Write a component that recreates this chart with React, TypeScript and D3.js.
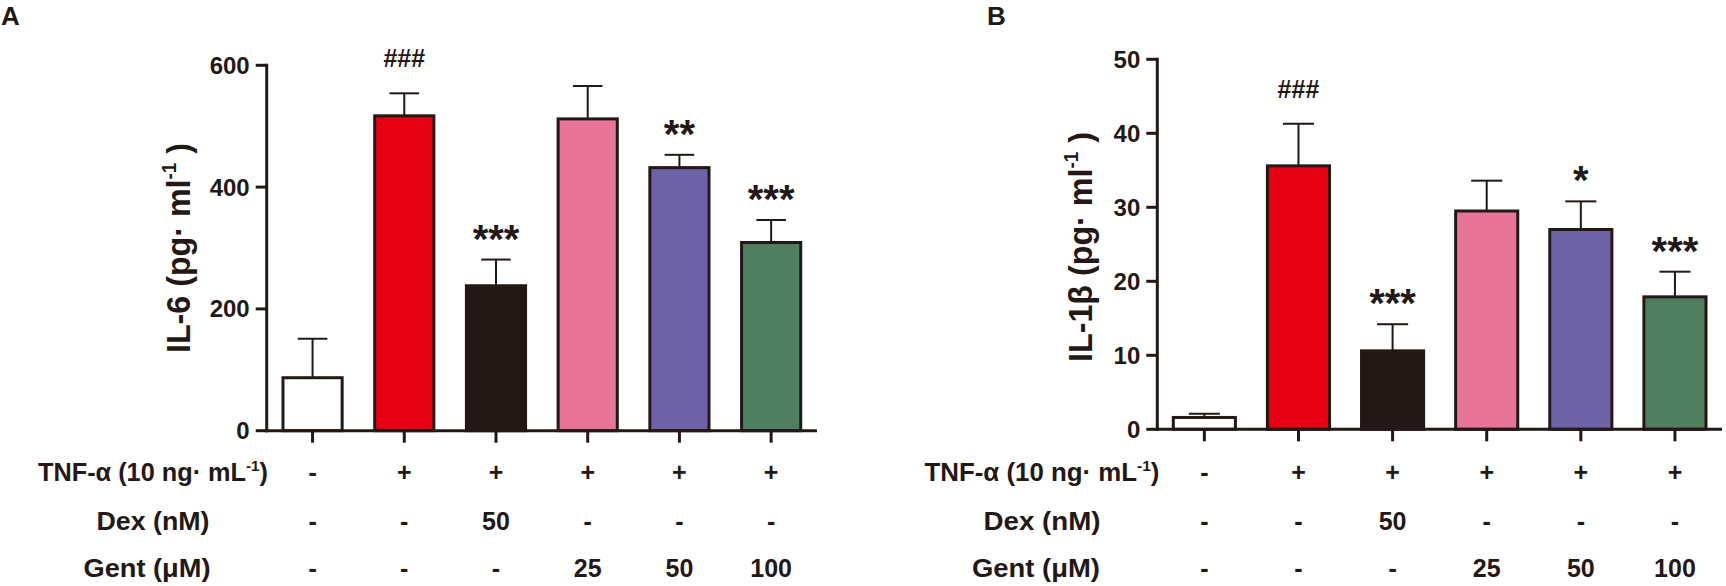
import React from 'react';
import * as d3 from 'd3';

// ---------- data ----------
const groups = ['Control', 'TNF', 'TNF+Dex', 'TNF+Gent25', 'TNF+Gent50', 'TNF+Gent100'];
const barColors = ['#ffffff', '#e60012', '#231815', '#e87597', '#6f63a8', '#4f7f5e'];

const il6Mean = [87, 517, 238, 512, 432, 309];
const il6Err = [64, 37, 43, 54, 21, 37];
const il6Sig = ['', '###', '***', '', '**', '***'];
const il6Ticks = [0, 200, 400, 600];

const il1bMean = [1.6, 35.6, 10.6, 29.5, 27.0, 17.9];
const il1bErr = [0.5, 5.7, 3.6, 4.1, 3.8, 3.4];
const il1bSig = ['', '###', '***', '', '*', '***'];
const il1bTicks = [0, 10, 20, 30, 40, 50];

const tnfRow = ['-', '+', '+', '+', '+', '+'];
const dexRow = ['-', '-', '50', '-', '-', '-'];
const gentRow = ['-', '-', '-', '25', '50', '100'];

const INK = '#231815';
const FONT = '"Liberation Sans", Arial, Helvetica, sans-serif';

type PanelProps = {
  letter: string;
  letterX: number;
  means: number[];
  errs: number[];
  sig: string[];
  ticks: number[];
  yMax: number;
  axisX: number;
  rightX: number;
  yTop: number;
  yBase: number;
  barFrac: number;
  rowLabelX: number;
  rowLabelLens: number[];
  yLabel: string;
  yLabelX: number;
  yLabelY: number;
  yLabelLen: number;
};

function Panel(p: PanelProps) {
  const x = d3.scalePoint<string>().domain(groups).range([p.axisX, p.rightX]).padding(0.5);
  const y = d3.scaleLinear().domain([0, p.yMax]).range([p.yBase, p.yTop]);
  const bw = x.step() * p.barFrac;
  const cap = bw / 2;
  const rowsY = [481, 530, 577];
  const rows = [tnfRow, dexRow, gentRow];

  return (
    <g>
      <text x={p.letterX} y={25} fontSize={26} fontWeight="bold" fill={INK} fontFamily={FONT}>
        {p.letter}
      </text>

      {/* bars */}
      {groups.map((g, i) => {
        const cx = x(g) as number;
        const top = y(p.means[i]);
        const et = y(p.means[i] + p.errs[i]);
        return (
          <g key={g}>
            <line x1={cx} x2={cx} y1={top} y2={et} stroke={INK} strokeWidth={2} />
            <line x1={cx - cap / 2} x2={cx + cap / 2} y1={et} y2={et} stroke={INK} strokeWidth={2} />
            <rect
              x={cx - bw / 2}
              y={top}
              width={bw}
              height={p.yBase - top}
              fill={barColors[i]}
              stroke={INK}
              strokeWidth={3}
            />
            {p.sig[i] ? (
              p.sig[i].startsWith('#') ? (
                <text
                  x={cx}
                  y={et - 26}
                  textAnchor="middle"
                  fontSize={25}
                  fontWeight="bold"
                  fill={INK}
                  fontFamily={FONT}
                >
                  {p.sig[i]}
                </text>
              ) : (
                <text
                  x={cx}
                  y={et - 7}
                  textAnchor="middle"
                  fontSize={40}
                  fontWeight="bold"
                  fill={INK}
                  fontFamily={FONT}
                >
                  {p.sig[i]}
                </text>
              )
            ) : null}
          </g>
        );
      })}

      {/* axes */}
      <line x1={p.axisX} x2={p.axisX} y1={y(p.yMax) - 1.5} y2={p.yBase + 1.5} stroke={INK} strokeWidth={3} />
      <line x1={p.axisX - 1.5} x2={p.rightX} y1={p.yBase} y2={p.yBase} stroke={INK} strokeWidth={3} />
      {p.ticks.map((t) => (
        <g key={t}>
          <line x1={p.axisX - 11} x2={p.axisX} y1={y(t)} y2={y(t)} stroke={INK} strokeWidth={3} />
          <text
            x={p.axisX - 17}
            y={y(t) + 8.5}
            textAnchor="end"
            fontSize={24}
            fontWeight="bold"
            fill={INK}
            fontFamily={FONT}
          >
            {t}
          </text>
        </g>
      ))}
      {groups.map((g) => (
        <line key={g} x1={x(g)} x2={x(g)} y1={p.yBase} y2={p.yBase + 12} stroke={INK} strokeWidth={3} />
      ))}

      {/* y label */}
      <text
        transform={`translate(${p.yLabelX},${p.yLabelY}) rotate(-90)`}
        textAnchor="middle"
        fontSize={34}
        fontWeight="bold"
        fill={INK}
        fontFamily={FONT}
        textLength={p.yLabelLen}
        lengthAdjust="spacingAndGlyphs"
      >
        {p.yLabel}
        <tspan fontSize={20} dy={-14}>-1</tspan>
        <tspan dy={14}> )</tspan>
      </text>

      {/* treatment table */}
      <text
        x={p.rowLabelX}
        y={rowsY[0]}
        textAnchor="middle"
        fontSize={25}
        fontWeight="bold"
        fill={INK}
        fontFamily={FONT}
        textLength={p.rowLabelLens[0]}
        lengthAdjust="spacingAndGlyphs"
      >
        TNF-α  (10 ng·  mL
        <tspan fontSize={15} dy={-10}>-1</tspan>
        <tspan dy={10}>)</tspan>
      </text>
      <text
        x={p.rowLabelX}
        y={rowsY[1]}
        textAnchor="middle"
        fontSize={25}
        fontWeight="bold"
        fill={INK}
        fontFamily={FONT}
        textLength={p.rowLabelLens[1]}
        lengthAdjust="spacingAndGlyphs"
      >
        Dex (nM)
      </text>
      <text
        x={p.rowLabelX - 6}
        y={rowsY[2]}
        textAnchor="middle"
        fontSize={25}
        fontWeight="bold"
        fill={INK}
        fontFamily={FONT}
        textLength={p.rowLabelLens[2]}
        lengthAdjust="spacingAndGlyphs"
      >
        Gent (μM)
      </text>
      {rows.map((row, r) =>
        row.map((v, i) => (
          <text
            key={`${r}-${i}`}
            x={x(groups[i])}
            y={rowsY[r]}
            textAnchor="middle"
            fontSize={25}
            fontWeight="bold"
            fill={INK}
            fontFamily={FONT}
          >
            {v}
          </text>
        ))
      )}
    </g>
  );
}

export default function App() {
  return (
    <svg
      width={1726}
      height={586}
      style={{ position: 'absolute', left: 0, top: 0, background: '#fff' }}
    >
      <rect width={1726} height={586} fill="#fff" />
      <Panel
        letter="A"
        letterX={1}
        means={il6Mean}
        errs={il6Err}
        sig={il6Sig}
        ticks={il6Ticks}
        yMax={600}
        axisX={266.7}
        rightX={817}
        yTop={65.3}
        yBase={430.7}
        barFrac={0.645}
        rowLabelX={153}
        rowLabelLens={[230, 113, 127]}
        yLabel="IL-6 (pg·  ml"
        yLabelX={190}
        yLabelY={248}
        yLabelLen={210}
      />
      <Panel
        letter="B"
        letterX={987}
        means={il1bMean}
        errs={il1bErr}
        sig={il1bSig}
        ticks={il1bTicks}
        yMax={50}
        axisX={1157.3}
        rightX={1722}
        yTop={59.3}
        yBase={429.3}
        barFrac={0.66}
        rowLabelX={1042}
        rowLabelLens={[235, 117, 128]}
        yLabel="IL-1β (pg·  ml"
        yLabelX={1092}
        yLabelY={247}
        yLabelLen={230}
      />
    </svg>
  );
}
